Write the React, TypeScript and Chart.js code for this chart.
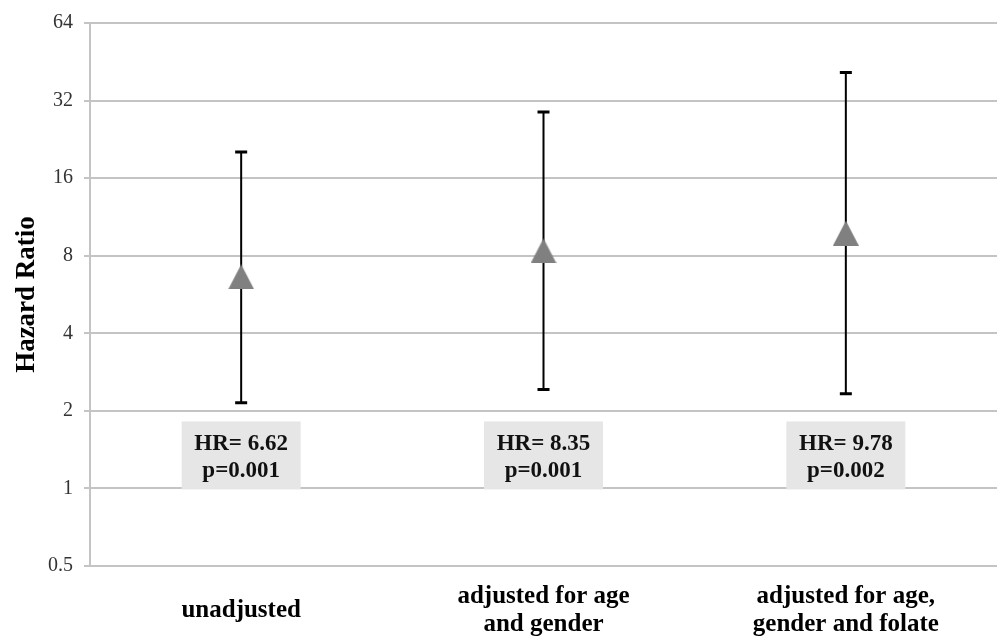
import React, { useEffect, useRef } from "react";
import { Chart, registerables } from "chart.js";

Chart.register(...registerables);

const categories: string[][] = [
  ["unadjusted"],
  ["adjusted for age", "and gender"],
  ["adjusted for age,", "gender and folate"],
];
const hazardRatios: number[] = [6.62, 8.35, 9.78];
const ciLower: number[] = [2.15, 2.42, 2.33];
const ciUpper: number[] = [20.2, 28.9, 41.1];
const pValues: string[] = ["0.001", "0.001", "0.002"];
const yTicks: number[] = [0.5, 1, 2, 4, 8, 16, 32, 64];

const SERIF = "'Liberation Serif', 'Times New Roman', serif";

function makeTriangle(): HTMLCanvasElement {
  const c = document.createElement("canvas");
  const w = 26;
  const h = 25;
  c.width = w;
  c.height = h;
  const ctx = c.getContext("2d")!;
  ctx.fillStyle = "#808080";
  ctx.beginPath();
  ctx.moveTo(w / 2, 0);
  ctx.lineTo(w, h);
  ctx.lineTo(0, h);
  ctx.closePath();
  ctx.fill();
  return c;
}

const errorBarPlugin = {
  id: "errorBars",
  beforeDatasetsDraw(chart: any) {
    const { ctx } = chart;
    const x = chart.scales.x;
    const y = chart.scales.y;
    ctx.save();
    // label boxes
    hazardRatios.forEach((hr, i) => {
      const cx = x.getPixelForValue(i);
      const bottom = y.getPixelForValue(1) + 1;
      const top = bottom - 68;
      ctx.fillStyle = "#e6e6e6";
      ctx.fillRect(cx - 59.5, top, 119, bottom - top);
      ctx.fillStyle = "#111";
      ctx.font = `bold 23px ${SERIF}`;
      ctx.textAlign = "center";
      ctx.textBaseline = "middle";
      ctx.fillText(`HR= ${hr.toFixed(2)}`, cx, top + 23);
      ctx.fillText(`p=${pValues[i]}`, cx, top + 50);
    });
    // error bars
    ctx.strokeStyle = "#000";
    hazardRatios.forEach((_, i) => {
      const cx = x.getPixelForValue(i);
      const yl = y.getPixelForValue(ciLower[i]);
      const yu = y.getPixelForValue(ciUpper[i]);
      ctx.lineWidth = 2;
      ctx.beginPath();
      ctx.moveTo(cx, yl);
      ctx.lineTo(cx, yu);
      ctx.stroke();
      ctx.lineWidth = 3;
      ctx.beginPath();
      ctx.moveTo(cx - 6, yl);
      ctx.lineTo(cx + 6, yl);
      ctx.moveTo(cx - 6, yu);
      ctx.lineTo(cx + 6, yu);
      ctx.stroke();
    });
    ctx.restore();
  },
};

export default function App() {
  const ref = useRef<HTMLCanvasElement | null>(null);
  useEffect(() => {
    if (!ref.current) return;
    const tri = makeTriangle();
    const chart = new Chart(ref.current, {
      type: "line",
      data: {
        labels: categories as any,
        datasets: [
          {
            data: hazardRatios,
            showLine: false,
            pointStyle: tri as any,
            pointRadius: 1,
            pointBorderWidth: 0,
            borderWidth: 0,
            backgroundColor: "#808080",
            borderColor: "#808080",
          },
        ],
      },
      plugins: [errorBarPlugin],
      options: {
        animation: false,
        responsive: false,
        layout: { padding: { left: 0, right: 8, top: 17, bottom: 0 } },
        plugins: { legend: { display: false }, tooltip: { enabled: false } },
        scales: {
          x: {
            type: "category",
            offset: true,
            grid: { display: false },
            border: { display: false },
            ticks: {
              color: "#000",
              font: { family: SERIF, size: 25, weight: "bold", lineHeight: 1.1 },
              padding: 23,
              maxRotation: 0,
              autoSkip: false,
              crossAlign: "center",
            },
            afterFit: (s: any) => {
              s.height = 75;
              s.paddingLeft = 0;
              s.paddingRight = 0;
            },
          },
          y: {
            type: "logarithmic",
            min: 0.5,
            max: 64,
            afterBuildTicks: (s: any) => {
              s.ticks = yTicks.map((v) => ({ value: v }));
            },
            afterFit: (s: any) => {
              s.width = 90;
            },
            grid: { color: "#c4c4c4", lineWidth: 2, tickLength: 6 },
            border: { display: true, color: "#c4c4c4", width: 2 },
            ticks: {
              color: "#333",
              font: { family: SERIF, size: 20 },
              padding: 11,
              callback: (v: any) => String(v),
            },
            title: {
              display: true,
              text: "Hazard Ratio",
              color: "#000",
              font: { family: SERIF, size: 27, weight: "bold" },
              padding: { top: 11, bottom: 0 },
            },
          },
        },
      },
    });
    return () => chart.destroy();
  }, []);
  return (
    <div style={{ position: "fixed", left: 0, top: 0, width: 1005, height: 641, background: "#fff" }}>
      <canvas ref={ref} width={1005} height={641} style={{ display: "block" }} />
    </div>
  );
}
